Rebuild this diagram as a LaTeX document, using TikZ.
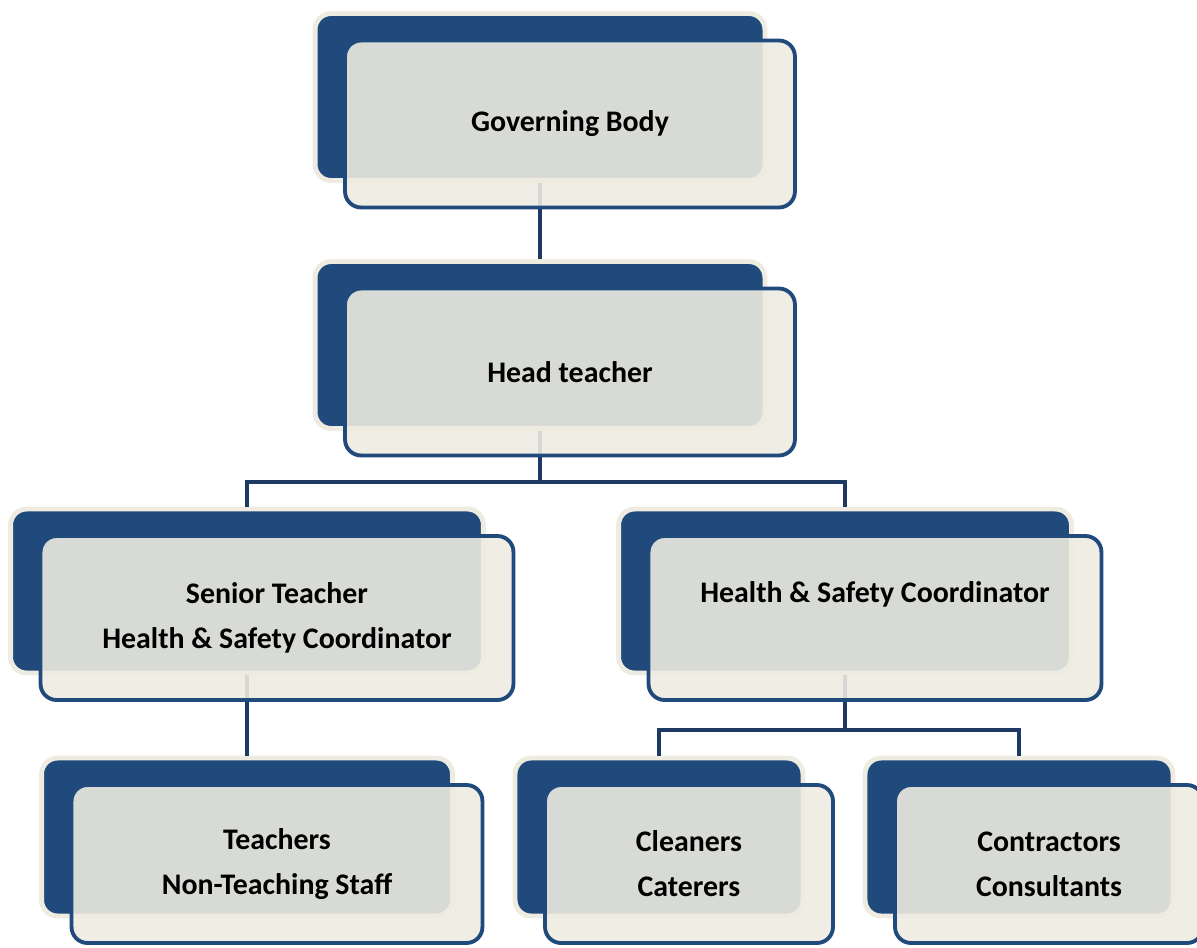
\documentclass[tikz,border=0pt]{standalone}
\usepackage{fontspec}
\setmainfont{Carlito}
\usetikzlibrary{positioning}
\definecolor{navy}{RGB}{33,74,124}
\definecolor{linkblue}{RGB}{30,57,100}
\definecolor{cream}{RGB}{238,236,225}
\begin{document}
\begin{tikzpicture}[x=0.02cm,y=-0.02cm,on grid,
    back/.style = {draw=cream,line width=2.8pt,fill=navy,rounded corners=0.32cm,inner sep=0pt},
    front/.style = {draw=navy,line width=2.2pt,fill=cream,fill opacity=0.89,text opacity=1,
        rounded corners=0.32cm,inner sep=0pt,align=center,font=\fontsize{17}{25.6}\selectfont\bfseries},
    link/.style = {draw=linkblue,line width=2.2pt},
    sizeA/.style = {minimum width=9cm,minimum height=3.34cm},
    sizeB/.style = {minimum width=9.46cm,minimum height=3.28cm},
    sizeC/.style = {minimum width=9.06cm,minimum height=3.28cm},
    sizeD/.style = {minimum width=8.22cm,minimum height=3.16cm},
    sizeE/.style = {minimum width=5.76cm,minimum height=3.16cm},
    sizeF/.style = {minimum width=6.16cm,minimum height=3.16cm}]
    \useasboundingbox (0,0) rectangle (1197,947);

        \node[back,sizeA] (gov) at (540,97) {};
        \node[back,sizeA] (head) at (540,345) {};
        \node[back,sizeB] (senior) at (247,591) {};
        \node[back,sizeC] (hsc) at (845,591) {};
        \node[back,sizeD] (teach) at (247,837) {};
        \node[back,sizeE] (clean) at (659,837) {};
        \node[back,sizeF] (contr) at (1019,837) {};

        \coordinate (j1) at (540,482);
        \coordinate (j2) at (845,730);
        \draw[link] (gov.south) -- (head.north);
        \draw[link] (head.south) -- (j1) -| (senior.north);
        \draw[link] (j1) -| (hsc.north);
        \draw[link] (senior.south) -- (teach.north);
        \draw[link] (hsc.south) -- (j2) -| (clean.north);
        \draw[link] (j2) -| (contr.north);

        \node[front,sizeA] (gov-f) [below right=0.54cm and 0.6cm of gov] {Governing Body};
        \node[front,sizeA] (head-f) [below right=0.54cm and 0.6cm of head] {Head teacher};
        \node[front,sizeB] (senior-f) [below right=0.54cm and 0.6cm of senior]
            {Senior Teacher\\Health \& Safety Coordinator};
        \node[front,sizeC] (hsc-f) [below right=0.54cm and 0.6cm of hsc,
            label={[font=\fontsize{17}{25.6}\selectfont\bfseries,yshift=0.47cm]center:Health \& Safety Coordinator}] {};
        \node[front,sizeD] (teach-f) [below right=0.54cm and 0.6cm of teach]
            {Teachers\\Non-Teaching Staff};
        \node[front,sizeE] (clean-f) [below right=0.54cm and 0.6cm of clean]
            {Cleaners\\Caterers};
        \node[front,sizeF] (contr-f) [below right=0.54cm and 0.6cm of contr]
            {Contractors\\Consultants};
    \end{tikzpicture}
\end{document}
